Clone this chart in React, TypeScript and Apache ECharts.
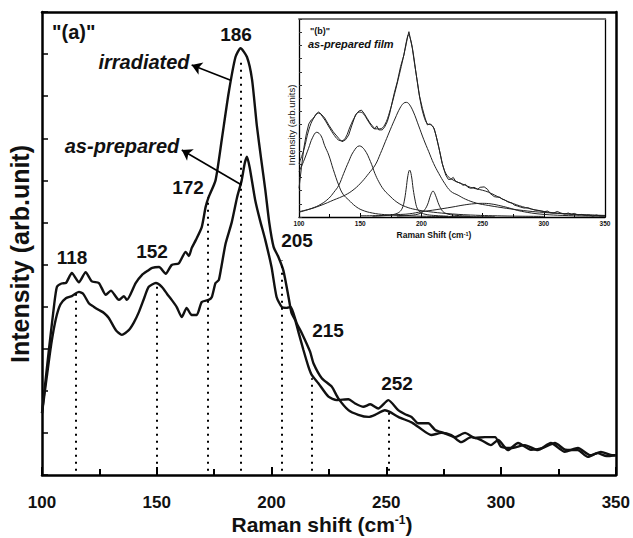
import React, { useEffect, useRef } from "react";
import * as echarts from "echarts";

// ---------- main plot data (Raman shift, intensity in arb. units) ----------
const irradiated: [number, number][] = [
  [100, 1.47], [103, 2.97], [105.2, 4.0], [106.5, 4.47], [108.5, 4.55], [110.4, 4.56], [113, 4.8],
  [116.1, 4.58], [119, 4.82], [121.7, 4.6], [124.8, 4.56], [127.8, 4.28], [130, 4.38], [133.5, 4.16],
  [135.7, 4.25], [137, 4.16], [140.8, 4.56], [143.5, 4.75], [146, 4.85], [148, 4.92], [151, 4.94],
  [153.9, 4.78], [156.5, 4.99], [159.6, 5.03], [162.6, 5.3], [164, 5.2], [165.2, 5.39], [167, 5.58],
  [169.6, 5.89], [171.3, 6.37], [172.6, 6.6], [175.6, 7.0], [178.3, 7.96], [181.3, 9.07], [184.3, 9.93],
  [186.5, 10.14], [189.3, 9.93], [191.5, 9.4], [193.6, 8.3], [195.5, 7.5], [197.3, 6.77], [199, 6.0],
  [200.9, 5.42], [203, 5.18], [205.2, 4.85], [207.4, 4.23], [208.7, 3.85], [210.3, 3.68], [211.7, 3.4],
  [213.9, 2.97], [216.1, 2.57], [217.5, 2.38], [220.4, 2.18], [224.8, 1.86], [228.4, 1.78], [233.5, 1.8],
  [236.4, 1.7], [240, 1.62], [243, 1.68], [246.5, 1.58], [250.9, 1.78], [255.2, 1.54], [258, 1.45],
  [261, 1.38], [263.9, 1.23], [268.3, 1.23], [271.3, 1.07], [275, 1.0], [280, 0.9], [284.3, 1.0],
  [288.7, 0.88], [293, 0.9], [297.4, 0.9], [300, 0.67], [304.3, 0.64], [310.4, 0.71], [316, 0.59],
  [321.7, 0.76], [327.8, 0.55], [333.5, 0.64], [339, 0.47], [343.5, 0.55], [348.7, 0.47], [350, 0.47],
];

const asPrepared: [number, number][] = [
  [100, 1.47], [102, 2.3], [104, 3.1], [106, 3.7], [108, 4.05], [110.4, 4.2], [113, 4.25], [116.1, 4.35],
  [118, 4.3], [120.4, 4.08], [122.5, 4.0], [124.8, 3.92], [127, 3.85], [129.1, 3.73], [132.2, 3.44],
  [134.8, 3.33], [137.8, 3.44], [140, 3.62], [142.2, 3.87], [144.5, 4.2], [146.5, 4.47], [149.6, 4.56],
  [152.2, 4.47], [154.5, 4.3], [156.5, 4.16], [158.7, 3.99], [160.9, 3.75], [163, 3.97], [165.2, 3.8],
  [167.4, 3.8], [169.6, 4.11], [172.6, 4.16], [174, 4.23], [175.6, 4.56], [177, 4.63], [178, 4.9],
  [180, 5.5], [182.6, 5.99], [185, 6.6], [187, 7.0], [188.3, 7.4], [189.3, 7.56], [190.5, 7.3],
  [192.9, 6.53], [195, 6.05], [197.3, 5.58], [200, 4.94], [202.2, 4.23], [204.5, 3.99], [206.5, 3.97],
  [208.3, 3.99], [209.5, 3.85], [211, 3.6], [213.2, 3.37], [216.8, 2.93], [218.3, 2.65], [221.9, 2.3],
  [226.2, 2.1], [229.1, 1.82], [233.5, 1.54], [237.8, 1.43], [242.2, 1.38], [245.1, 1.43], [249.4, 1.54],
  [251.5, 1.5], [255.2, 1.38], [261, 1.25], [264, 1.14], [269.6, 0.95], [274, 1.0], [278.3, 0.95],
  [282.6, 0.78], [287, 0.9], [291.3, 0.83], [295.6, 0.71], [298.7, 0.83], [303, 0.59], [307.4, 0.76],
  [313, 0.6], [318, 0.64], [323.5, 0.76], [328, 0.6], [333.5, 0.59], [337.8, 0.43], [342, 0.52],
  [346, 0.45], [350, 0.47],
];

// peak markers (dotted lines): position, top of dotted line, label
const peakPositions = [114.8, 150, 172.2, 186.5, 204.3, 217.4, 251];
const peakTops = [4.3, 4.56, 6.6, 9.9, 5.1, 2.3, 1.5];
const peakLabels = ["118", "152", "172", "186", "205", "215", "252"];

// ---------- inset (b): as-prepared film, measured spectrum + fitted components ----------
const insetMeasured: [number, number][] = [
  [100, 0.145], [102, 0.25], [104, 0.35], [106, 0.42], [108, 0.47], [110, 0.49], [112, 0.5], [114, 0.52],
  [116, 0.53], [118, 0.52], [121, 0.5], [124.3, 0.465], [128, 0.43], [132.5, 0.397], [135.2, 0.38],
  [138, 0.39], [140.6, 0.414], [143, 0.46], [146.1, 0.515], [148.9, 0.535], [151, 0.54], [153, 0.525],
  [155.7, 0.498], [158, 0.475], [160, 0.46], [162, 0.445], [163.5, 0.46], [165.2, 0.44], [168, 0.44],
  [170, 0.455], [172.1, 0.481], [174, 0.52], [176.2, 0.582], [178, 0.63], [180.3, 0.683], [183, 0.76],
  [185.7, 0.818], [187.5, 0.88], [189.8, 0.936], [191, 0.9], [192.6, 0.852], [194.5, 0.77], [196.7, 0.683],
  [198.5, 0.61], [200.8, 0.549], [203, 0.5], [204.9, 0.465], [206.5, 0.47], [207.6, 0.468], [209, 0.46],
  [210.3, 0.448], [212, 0.41], [214.4, 0.347], [217, 0.27], [219.9, 0.212], [222, 0.19], [224, 0.19],
  [226, 0.2], [228, 0.18], [230, 0.175], [232.2, 0.17], [234, 0.16], [236, 0.165], [238, 0.15],
  [240.4, 0.145], [243, 0.15], [246, 0.14], [248, 0.15], [251.3, 0.152], [254, 0.14], [256, 0.12],
  [259.5, 0.103], [262, 0.1], [264, 0.1], [266, 0.09], [268, 0.086], [271, 0.075], [274, 0.07], [276, 0.06],
  [278.7, 0.055], [281, 0.05], [284, 0.045], [287, 0.047], [290, 0.04], [293, 0.035], [296, 0.033],
  [298, 0.03], [300.5, 0.027], [303, 0.03], [305, 0.022], [308, 0.02], [311, 0.028], [314, 0.02],
  [317, 0.015], [320, 0.02], [322.6, 0.014], [325, 0.018], [328, 0.01], [331, 0.013], [334, 0.008],
  [337, 0.01], [340, 0.004], [343, 0.01], [346, 0.005], [350, 0.006],
];

const insetFit: [number, number][] = [
  [100, 0.27], [104, 0.34], [108, 0.44], [112, 0.5], [116, 0.525], [120, 0.5], [124, 0.46], [128, 0.42],
  [132, 0.39], [135, 0.385], [138, 0.4], [142, 0.46], [146, 0.51], [149, 0.53], [152, 0.525], [155, 0.5],
  [158, 0.47], [162, 0.445], [166, 0.445], [170, 0.465], [174, 0.53], [178, 0.62], [182, 0.72], [185, 0.8],
  [187.5, 0.87], [189.5, 0.92], [191, 0.9], [193, 0.84], [196, 0.71], [199, 0.59], [202, 0.51], [205, 0.47],
  [208, 0.465], [210, 0.45], [212, 0.41], [215, 0.33], [218, 0.25], [221, 0.21], [225, 0.19], [230, 0.175],
  [235, 0.163], [240, 0.15], [245, 0.142], [250, 0.135], [255, 0.125], [260, 0.11], [265, 0.095],
  [270, 0.08], [275, 0.068], [280, 0.057], [290, 0.04], [300, 0.028], [310, 0.02], [320, 0.015],
  [335, 0.01], [350, 0.006],
];

const insetPeak118: [number, number][] = [
  [100, 0.229], [103.7, 0.28], [107.8, 0.347], [111, 0.4], [114.5, 0.428], [118, 0.41], [121, 0.36],
  [124.3, 0.313], [128, 0.24], [132.5, 0.16], [136, 0.115], [140.6, 0.086], [146, 0.055], [151.5, 0.035],
  [160, 0.02], [170, 0.012], [185, 0.007], [200, 0.004], [230, 0.002], [260, 0.001],
];
const insetPeak150: [number, number][] = [
  [100, 0.024], [110.6, 0.044], [118, 0.065], [124.3, 0.094], [128.5, 0.125], [132.5, 0.16], [136.5, 0.22],
  [140.6, 0.28], [144.5, 0.33], [149.3, 0.359], [153.5, 0.34], [158.4, 0.28], [162, 0.22], [165.2, 0.178],
  [169, 0.14], [173.4, 0.111], [180, 0.075], [187.1, 0.052], [195, 0.038], [206, 0.027], [220, 0.018],
  [240, 0.01], [270, 0.005], [300, 0.003],
];
const insetPeak188: [number, number][] = [
  [100, 0.027], [110, 0.042], [118.8, 0.061], [128, 0.085], [137.8, 0.111], [145, 0.14], [151.4, 0.178],
  [157, 0.22], [162.3, 0.263], [166.5, 0.32], [170.5, 0.38], [174.5, 0.44], [178.7, 0.5], [182.5, 0.55],
  [185.5, 0.575], [187.7, 0.579], [190, 0.57], [193.5, 0.53], [197.8, 0.46], [202, 0.39], [206, 0.33],
  [210, 0.27], [214.2, 0.22], [219, 0.17], [224, 0.13], [230, 0.11], [236, 0.09], [245, 0.07], [255, 0.058],
  [265, 0.048], [274, 0.04], [287, 0.03], [300, 0.023], [315, 0.017], [330, 0.012], [350, 0.008],
];
const insetPeak190: [number, number][] = [
  [160, 0.004], [172, 0.008], [178, 0.014], [182, 0.025], [184.4, 0.045], [186, 0.08], [187.5, 0.14],
  [189, 0.21], [190.4, 0.237], [191.8, 0.21], [193.3, 0.14], [195, 0.08], [196.5, 0.045], [199, 0.025],
  [203, 0.014], [210, 0.008], [222, 0.004],
];
const insetPeak210: [number, number][] = [
  [180, 0.004], [192, 0.009], [198, 0.016], [201.5, 0.028], [204.9, 0.061], [207.5, 0.11], [209.5, 0.131],
  [211.5, 0.11], [214.4, 0.061], [217.5, 0.028], [221, 0.016], [227, 0.009], [240, 0.004],
];
const insetPeak250: [number, number][] = [
  [150, 0.006], [165, 0.007], [180, 0.012], [190, 0.016], [200.5, 0.027], [212, 0.037], [225, 0.05],
  [235, 0.061], [243, 0.067], [249.7, 0.069], [257, 0.066], [265, 0.056], [272, 0.045], [278.7, 0.033],
  [290, 0.02], [300.5, 0.013], [315, 0.008], [334, 0.005], [350, 0.004],
];

const FONT = "'Liberation Sans', Arial, Helvetica, sans-serif";

function buildOption(): any {
  // pixel positions of annotation texts (annotations only)
  const labelPos: [number, number][] = [
    [72, 257], [152, 251], [188, 187], [236, 34], [297, 240], [328, 330], [397, 383],
  ];

  const dotted = peakPositions.map((x, i) => [
    { coord: [x, 0.1] },
    { coord: [x, peakTops[i]] },
  ]);

  const mainLine = { color: "#111", width: 2.4 };
  const thin = { color: "#222", width: 1 };

  const insetSeries = [
    insetMeasured, insetFit, insetPeak118, insetPeak150, insetPeak188, insetPeak190, insetPeak210, insetPeak250,
  ].map((d, i) => ({
    type: "line",
    xAxisIndex: 1,
    yAxisIndex: 1,
    data: d,
    showSymbol: false,
    smooth: i === 0 ? false : 0.4,
    lineStyle: thin,
    silent: true,
    z: 6,
  }));

  return {
    animation: false,
    backgroundColor: "#fff",
    grid: [
      { left: 42, top: 12, width: 574, height: 463, show: false },
      { left: 299, top: 19, width: 306, height: 198, show: true, backgroundColor: "#fff", borderWidth: 0 },
    ],
    xAxis: [
      {
        type: "value", gridIndex: 0, min: 100, max: 350, interval: 50,
        axisLine: { show: true, onZero: false, lineStyle: { color: "#000", width: 2.5 } },
        axisTick: { show: true, inside: true, length: 8, lineStyle: { color: "#000", width: 2 } },
        minorTick: { show: true, splitNumber: 2, length: 6, lineStyle: { color: "#000", width: 2 } },
        axisLabel: { show: true, margin: 19, color: "#111", fontSize: 17, fontWeight: "bold", fontFamily: FONT },
        splitLine: { show: false },
      },
      {
        type: "value", gridIndex: 1, min: 100, max: 350, interval: 50,
        axisLine: { show: true, onZero: false, lineStyle: { color: "#000", width: 1.3 } },
        axisTick: { show: true, inside: true, length: 4, lineStyle: { color: "#000", width: 1 } },
        minorTick: { show: true, splitNumber: 2, length: 3, lineStyle: { color: "#000", width: 1 } },
        axisLabel: { show: true, margin: 3, color: "#111", fontSize: 6.5, fontWeight: "bold", fontFamily: FONT },
        splitLine: { show: false },
      },
      {
        type: "value", gridIndex: 1, min: 100, max: 350, position: "top",
        axisLine: { show: true, onZero: false, lineStyle: { color: "#777", width: 2 } },
        axisTick: { show: false }, axisLabel: { show: false }, splitLine: { show: false },
      },
      {
        type: "value", gridIndex: 0, min: 100, max: 350, position: "top",
        axisLine: { show: true, onZero: false, lineStyle: { color: "#000", width: 2.5 } },
        axisTick: { show: false }, axisLabel: { show: false }, splitLine: { show: false },
      },
    ],
    yAxis: [
      {
        type: "value", gridIndex: 0, min: 0, max: 11, interval: 1,
        axisLine: { show: true, onZero: false, lineStyle: { color: "#000", width: 2.5 } },
        axisTick: { show: true, inside: true, length: 6, lineStyle: { color: "#000", width: 1.5 } },
        axisLabel: { show: false }, splitLine: { show: false },
      },
      {
        type: "value", gridIndex: 1, min: 0, max: 1, interval: 1 / 15,
        axisLine: { show: true, onZero: false, lineStyle: { color: "#000", width: 1.3 } },
        axisTick: { show: true, inside: true, length: 3, lineStyle: { color: "#333", width: 1 } },
        axisLabel: { show: false }, splitLine: { show: false },
      },
      {
        type: "value", gridIndex: 1, min: 0, max: 1, position: "right",
        axisLine: { show: true, onZero: false, lineStyle: { color: "#000", width: 1.3 } },
        axisTick: { show: false }, axisLabel: { show: false }, splitLine: { show: false },
      },
      {
        type: "value", gridIndex: 0, min: 0, max: 11, position: "right",
        axisLine: { show: true, onZero: false, lineStyle: { color: "#000", width: 2.5 } },
        axisTick: { show: false }, axisLabel: { show: false }, splitLine: { show: false },
      },
    ],
    series: [
      {
        name: "irradiated", type: "line", xAxisIndex: 0, yAxisIndex: 0, data: irradiated,
        showSymbol: false, smooth: 0.2, lineStyle: mainLine, silent: true, z: 2,
        markLine: {
          silent: true, symbol: ["none", "none"], label: { show: false },
          lineStyle: { color: "#000", width: 2, type: [2, 5] },
          emphasis: { disabled: true },
          data: dotted,
        },
      },
      {
        name: "as-prepared", type: "line", xAxisIndex: 0, yAxisIndex: 0, data: asPrepared,
        showSymbol: false, smooth: 0.2, lineStyle: mainLine, silent: true, z: 2,
        markLine: {
          silent: true, symbol: ["none", "arrow"], symbolSize: 10, label: { show: false },
          lineStyle: { color: "#000", width: 1.6, type: "solid" },
          emphasis: { disabled: true },
          data: [
            [{ coord: [182.2, 9.38] }, { coord: [165.2, 9.74] }],
            [{ coord: [187, 6.89] }, { coord: [160.9, 7.72] }],
          ],
        },
      },
      ...insetSeries,
    ],
    graphic: [
      ...peakLabels.map((t, i) => ({
        type: "text", x: labelPos[i][0], y: labelPos[i][1], z: 10,
        style: { text: t, font: `bold 19px ${FONT}`, fill: "#111", align: "center", verticalAlign: "middle" },
      })),
      {
        type: "text", x: 52, y: 32, z: 10,
        style: { text: '"(a)"', font: `bold 20px ${FONT}`, fill: "#111", align: "left", verticalAlign: "middle" },
      },
      {
        type: "text", x: 144, y: 62, z: 10,
        style: { text: "irradiated", font: `italic bold 20px ${FONT}`, fill: "#111", align: "center", verticalAlign: "middle" },
      },
      {
        type: "text", x: 122, y: 146, z: 10,
        style: { text: "as-prepared", font: `italic bold 20px ${FONT}`, fill: "#111", align: "center", verticalAlign: "middle" },
      },
      {
        type: "text", x: 20, y: 254, rotation: Math.PI / 2, z: 10,
        style: { text: "Intensity (arb.unit)", font: `bold 25px ${FONT}`, fill: "#111", align: "center", verticalAlign: "middle" },
      },
      {
        type: "text", x: 322, y: 524, z: 10,
        style: {
          text: "{a|Raman shift (cm}{b|-1}{a|)}",
          align: "center", verticalAlign: "middle",
          rich: {
            a: { fontSize: 21, fontWeight: "bold", fontFamily: FONT, fill: "#111" },
            b: { fontSize: 12, fontWeight: "bold", fontFamily: FONT, fill: "#111", verticalAlign: "top" },
          },
        },
      },
      // inset texts
      {
        type: "text", x: 310, y: 31, z: 10,
        style: { text: '"(b)"', font: `bold 9px ${FONT}`, fill: "#111", align: "left", verticalAlign: "middle" },
      },
      {
        type: "text", x: 308, y: 44, z: 10,
        style: { text: "as-prepared film", font: `italic bold 11px ${FONT}`, fill: "#111", align: "left", verticalAlign: "middle" },
      },
      {
        type: "text", x: 291, y: 125, rotation: Math.PI / 2, z: 10,
        style: { text: "Intensity (arb.units)", font: `9.5px ${FONT}`, fill: "#111", align: "center", verticalAlign: "middle" },
      },
      {
        type: "text", x: 434, y: 235, z: 10,
        style: {
          text: "{a|Raman Shift (cm}{b|-1}{a|)}",
          align: "center", verticalAlign: "middle",
          rich: {
            a: { fontSize: 8.5, fontWeight: "bold", fontFamily: FONT, fill: "#111" },
            b: { fontSize: 5.5, fontWeight: "bold", fontFamily: FONT, fill: "#111", verticalAlign: "top" },
          },
        },
      },
    ],
  };
}

export default function App() {
  const ref = useRef<HTMLDivElement>(null);
  useEffect(() => {
    if (!ref.current) return;
    const chart = echarts.init(ref.current, undefined, { renderer: "svg" });
    chart.setOption(buildOption());
    return () => chart.dispose();
  }, []);
  return (
    <div
      ref={ref}
      style={{ position: "fixed", left: 0, top: 0, width: 633, height: 538, background: "#fff" }}
    />
  );
}
